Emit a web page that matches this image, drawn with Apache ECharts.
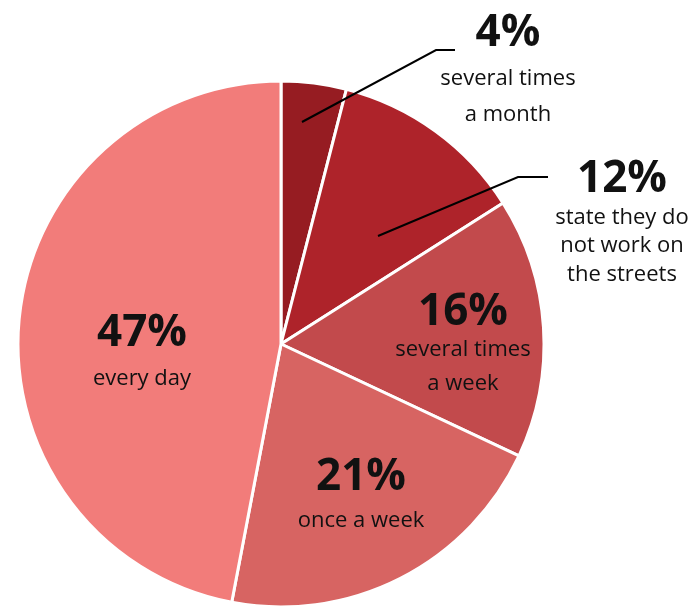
<!DOCTYPE html>
<html>
<head>
<meta charset="utf-8">
<style>
  html, body { margin: 0; padding: 0; background: #ffffff; }
  #chart { width: 695px; height: 608px; }
</style>
<script src="https://cdn.jsdelivr.net/npm/echarts@6/dist/echarts.min.js"></script>
</head>
<body>
<div id="chart"></div>
<script>
// ---- data ----
var categories = ['several times a month', 'state they do not work on the streets', 'several times a week', 'once a week', 'every day'];
var values = [4, 12, 16, 21, 47];
var subLabels = [
  'several times\na month',
  'state they do\nnot work on\nthe streets',
  'several times\na week',
  'once a week',
  'every day'
];
var colors = ['#961c22', '#ae232a', '#c24a4c', '#d76462', '#f27c7a'];

// ---- label layout (positions of text blocks and leader lines) ----
var labelPos = [
  { x: 508, y: 5,   pLH: 56, sLH: 36,   line: [[302, 122], [436, 50], [455, 50]] },
  { x: 622, y: 155, pLH: 48, sLH: 28.5, line: [[378, 236], [518, 177], [548, 177]] },
  { x: 463, y: 291, pLH: 42, sLH: 34,   line: null },
  { x: 361, y: 455, pLH: 44, sLH: 44,   line: null },
  { x: 142, y: 310, pLH: 46, sLH: 46,   line: null }
];

var FONT = '"Open Sans", "Noto Sans", sans-serif';
var CENTER = [281, 344];
var RADIUS = 263;

var sliceData = categories.map(function (c, i) {
  return { name: c, value: values[i], itemStyle: { color: colors[i] } };
});

var labelData = categories.map(function (c, i) {
  var lp = labelPos[i];
  return {
    name: c,
    value: values[i],
    label: {
      rich: {
        p: { fontSize: 44, fontWeight: 'bold', color: '#111', fontFamily: FONT, lineHeight: lp.pLH, align: 'center' },
        s: { fontSize: 22, color: '#111', fontFamily: FONT, lineHeight: lp.sLH, align: 'center' }
      }
    },
    labelLine: { show: !!lp.line }
  };
});

var chart = echarts.init(document.getElementById('chart'), null, { renderer: 'canvas' });
chart.setOption({
  backgroundColor: '#ffffff',
  animation: false,
  series: [{
    type: 'pie',
    z: 2,
    center: CENTER,
    radius: RADIUS,
    startAngle: 90,
    clockwise: true,
    silent: true,
    itemStyle: { borderColor: '#ffffff', borderWidth: 3 },
    emphasis: { disabled: true },
    label: { show: false },
    labelLine: { show: false },
    data: sliceData
  }, {
    type: 'pie',
    z: 5,
    center: CENTER,
    radius: RADIUS,
    startAngle: 90,
    clockwise: true,
    silent: true,
    avoidLabelOverlap: false,
    itemStyle: { color: 'rgba(0,0,0,0)', borderWidth: 0 },
    emphasis: { disabled: true },
    label: {
      show: true,
      position: 'outside',
      formatter: function (params) {
        var i = params.dataIndex;
        var lines = subLabels[i].split('\n').map(function (t) { return '{s|' + t + '}'; });
        return '{p|' + values[i] + '%}\n' + lines.join('\n');
      }
    },
    labelLine: {
      show: true,
      showAbove: true,
      lineStyle: { color: '#000000', width: 2 }
    },
    labelLayout: function (params) {
      var lp = labelPos[params.dataIndex];
      var res = { x: lp.x, y: lp.y, align: 'center', verticalAlign: 'top', hideOverlap: false, moveOverlap: false };
      if (lp.line) { res.labelLinePoints = lp.line; }
      return res;
    },
    data: labelData
  }]
});
</script>
</body>
</html>
